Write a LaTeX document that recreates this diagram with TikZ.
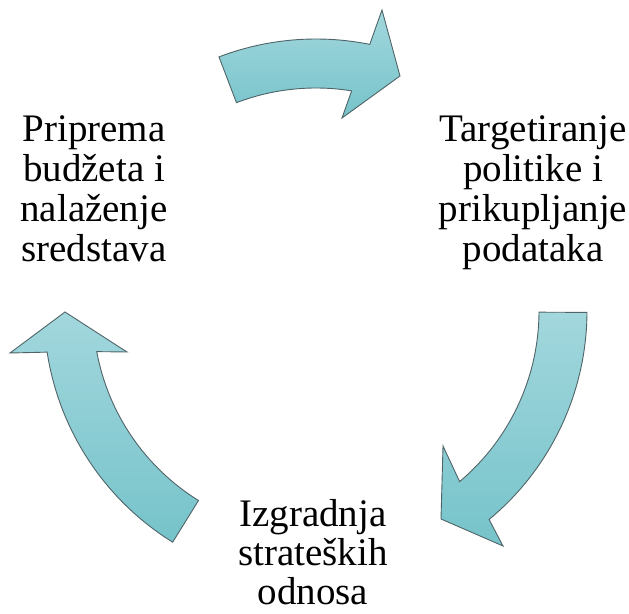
\documentclass[tikz,border=0pt]{standalone}
\usepackage{fontspec}
\setmainfont{Liberation Serif}
\definecolor{arrowtop}{RGB}{162,215,221}
\definecolor{arrowbot}{RGB}{118,195,202}
\definecolor{arrowedge}{RGB}{80,100,104}
\begin{document}
\begin{tikzpicture}[x=1pt,y=1pt,
  cyclearrow/.style={top color=arrowtop,bottom color=arrowbot,draw=arrowedge,line width=0.9pt,line join=miter},
  label/.style={font=\fontsize{39}{40}\selectfont,align=center,anchor=base,inner sep=0pt}]
\useasboundingbox (0,0) rectangle (629,613);
\begin{scope}[shift={(316,302)}]
  % top arrow
  \path[cyclearrow] (110.9:272) arc[start angle=110.9,end angle=78.6,radius=272]
     -- (66,301) -- (84,235) -- (26,193)
     -- (80.8:223) arc[start angle=80.8,end angle=110.9,radius=223] -- cycle;
  % right arrow
  \path[cyclearrow] (-0.3:271) arc[start angle=-0.3,end angle=-50.3,radius=271]
     -- (187,-235) -- (125,-208) -- (127,-135)
     -- (-49.9:223) arc[start angle=-49.9,end angle=-0.3,radius=223] -- cycle;
  % left arrow
  \path[cyclearrow] (238.2:272) arc[start angle=238.2,end angle=188.7,radius=272]
     -- (-306,-42) -- (-251,-1) -- (-189,-41)
     -- (190.5:223) arc[start angle=190.5,end angle=238.2,radius=223] -- cycle;
\end{scope}
\node[label] (prip) at (94,351) {Priprema\\budžeta i\\nalaženje\\sredstava};
\node[label] (targ) at (533,351) {Targetiranje\\politike i\\prikupljanje\\podataka};
\node[label,font=\fontsize{39}{39}\selectfont] (izgr) at (313,9) {Izgradnja\\strateških\\odnosa};
\end{tikzpicture}
\end{document}
